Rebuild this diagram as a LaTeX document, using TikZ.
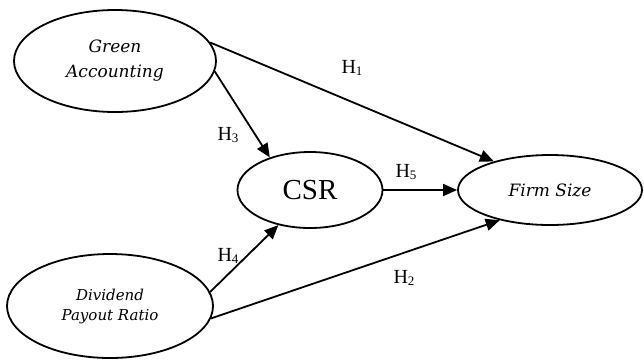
\documentclass[tikz,border=0pt]{standalone}
\usepackage{fontspec}
\setmainfont{Liberation Serif}
\newfontfamily\varfont{DejaVu Serif}
\usetikzlibrary{shapes.geometric,arrows.meta}
\newcommand{\hsub}[1]{H\raisebox{-1.5pt}{\fontsize{13}{13}\selectfont #1}}
\tikzset{
  var/.style={draw, ellipse, line width=1.8pt, inner sep=0pt, align=center, font=\varfont\itshape\fontsize{17}{25}\selectfont},
  link/.style={line width=1.8pt, -{Triangle[length=14pt,width=12pt]}},
  hlab/.style={font=\fontsize{20}{22}\selectfont, inner sep=0pt}
}
\begin{document}
\begin{tikzpicture}[x=1pt,y=-1pt]
\useasboundingbox (0,0) rectangle (644,360);
\node[var, minimum width=202pt, minimum height=102pt] (ga) at (115,61) {Green\\Accounting};
\node[var, minimum width=206pt, minimum height=104pt, font=\varfont\itshape\fontsize{15}{20}\selectfont] (dp) at (110,306) {Dividend\\Payout Ratio};
\node[var, minimum width=145pt, minimum height=76pt, font=\fontsize{29}{30}\selectfont] (csr) at (310,190) {CSR};
\node[var, minimum width=184pt, minimum height=70pt] (fs) at (550,190) {Firm Size};
\draw[link] (ga.11) -- (fs.153);
\draw[link] (ga.-6) -- (csr.141);
\draw[link] (dp.8) -- (csr.228);
\draw[link] (dp.-7) -- (fs.211);
\draw[link] (csr) -- (fs);
\node[hlab] (h1) at (352,68) {\hsub{1}};
\node[hlab] (h3) at (228,135) {\hsub{3}};
\node[hlab] (h5) at (406,172) {\hsub{5}};
\node[hlab] (h4) at (228,256) {\hsub{4}};
\node[hlab] (h2) at (404,278) {\hsub{2}};
\end{tikzpicture}
\end{document}
